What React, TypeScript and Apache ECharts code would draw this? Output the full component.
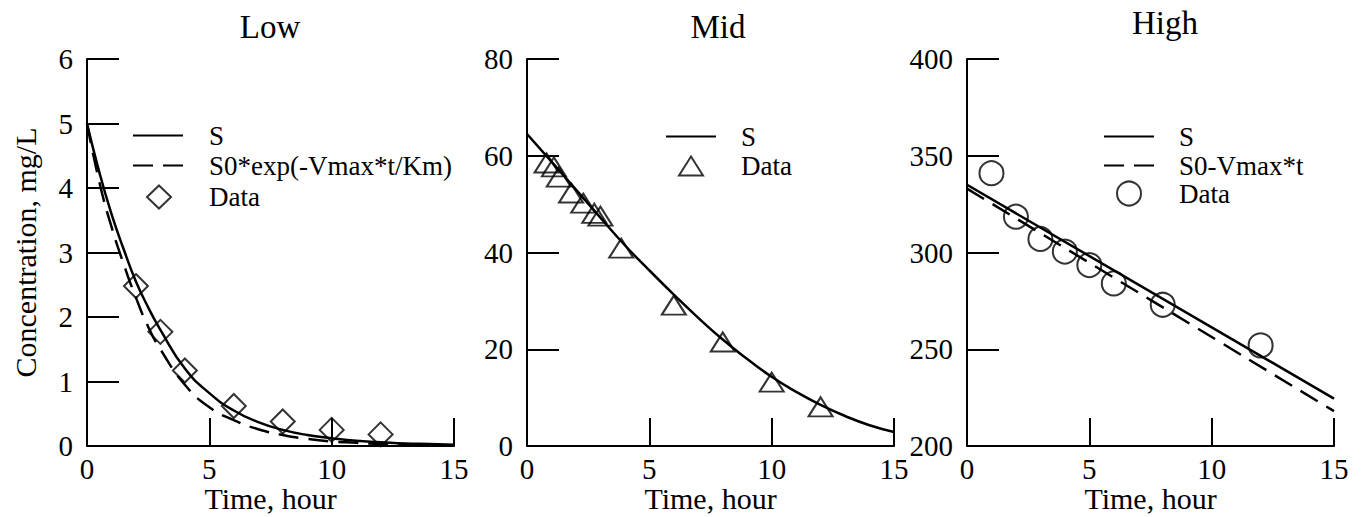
import React, { useEffect, useRef } from "react";
import * as echarts from "echarts";

const FONT = "'Liberation Serif', 'Times New Roman', serif";

// Panel titles and axis names
const panelTitles = ["Low", "Mid", "High"];
const xAxisName = "Time, hour";
const yAxisName = "Concentration, mg/L";

// Axis ranges
const yMins = [0, 0, 200];
const yMaxs = [6, 80, 400];
const yIntervals = [1, 20, 50];
const xMin = 0;
const xMax = 15;
const xInterval = 5;

// Low panel
const lowS: [number, number][] = [
  [0, 5.0], [0.5, 4.25], [1, 3.6], [1.5, 3.05], [2, 2.55], [2.5, 2.15], [3, 1.8],
  [4, 1.2], [5, 0.82], [6, 0.55], [7, 0.37], [8, 0.25], [9, 0.17], [10, 0.12],
  [11, 0.08], [12, 0.06], [13, 0.04], [14, 0.03], [15, 0.02],
];
const lowExp: [number, number][] = [
  [0, 5.0], [0.5, 4.1], [1, 3.4], [1.5, 2.82], [2, 2.3], [2.5, 1.85], [3, 1.5],
  [4, 0.95], [5, 0.6], [6, 0.4], [7, 0.26], [8, 0.17], [9, 0.11], [10, 0.07],
  [11, 0.05], [12, 0.03], [13, 0.02], [14, 0.015], [15, 0.01],
];
const lowData: [number, number][] = [
  [2, 2.48], [3, 1.77], [4, 1.17], [6, 0.62], [8, 0.38], [10, 0.25], [12, 0.18],
];

// Mid panel
const midS: [number, number][] = [
  [0, 64.5], [1, 58.8], [2, 53.0], [3, 47.2], [4, 41.5], [5, 36.3], [6, 31.3],
  [7, 26.5], [8, 22.0], [9, 18.0], [10, 14.3], [11, 11.2], [12, 8.5], [13, 6.2],
  [14, 4.3], [15, 2.9],
];
const midData: [number, number][] = [
  [0.8, 58.5], [1.1, 57.7], [1.3, 55.6], [1.8, 52.3], [2.3, 50.2], [2.75, 48.1],
  [3.0, 47.5], [3.85, 40.9], [6, 29.1], [8, 21.5], [10, 13.2], [12, 8.1],
];

// High panel
const highS: [number, number][] = [[0, 335], [15, 224.5]];
const highLin: [number, number][] = [[0, 333], [15, 218]];
const highData: [number, number][] = [
  [1, 341], [2, 318.5], [3, 307], [4, 300.5], [5, 293.5], [6, 284], [8, 273], [12, 252],
];

// Legend labels
const lowLegend = ["S", "S0*exp(-Vmax*t/Km)", "Data"];
const midLegend = ["S", "Data"];
const highLegend = ["S", "S0-Vmax*t", "Data"];

export default function App() {
  const ref = useRef<HTMLDivElement>(null);

  useEffect(() => {
    if (!ref.current) return;
    const chart = echarts.init(ref.current, undefined, { renderer: "svg" });

    const gridLefts = [87, 527, 967];
    const gridWidth = 367;
    const gridTop = 59;
    const gridHeight = 387;

    const grids = gridLefts.map((l) => ({
      left: l,
      top: gridTop,
      width: gridWidth,
      height: gridHeight,
      containLabel: false,
      outerBoundsMode: "none",
    }));

    const axisLineStyle = { color: "#000", width: 2 };
    const labelStyle = { color: "#000", fontFamily: FONT, fontSize: 29 };

    const xAxes = gridLefts.map((_, i) => ({
      type: "value",
      gridIndex: i,
      min: xMin,
      max: xMax,
      interval: xInterval,
      name: xAxisName,
      nameLocation: "middle",
      nameGap: 37,
      nameMoveOverlap: false,
      nameTextStyle: { color: "#000", fontFamily: FONT, fontSize: 30 },
      axisLine: { show: true, onZero: false, lineStyle: axisLineStyle },
      axisTick: { show: true, inside: true, length: 28, lineStyle: axisLineStyle },
      axisLabel: { ...labelStyle, margin: 8 },
      splitLine: { show: false },
    }));

    const yAxes = gridLefts.map((_, i) => ({
      type: "value",
      gridIndex: i,
      min: yMins[i],
      max: yMaxs[i],
      interval: yIntervals[i],
      name: i === 0 ? yAxisName : "",
      nameLocation: "middle",
      nameGap: 47,
      nameMoveOverlap: false,
      nameTextStyle: { color: "#000", fontFamily: FONT, fontSize: 30 },
      axisLine: { show: true, onZero: false, lineStyle: axisLineStyle },
      axisTick: { show: true, inside: true, length: 32, lineStyle: axisLineStyle },
      axisLabel: { ...labelStyle, margin: 14 },
      splitLine: { show: false },
    }));

    const lineSeries = (name: string, idx: number, data: [number, number][], dashed: boolean) => ({
      name,
      type: "line",
      xAxisIndex: idx,
      yAxisIndex: idx,
      data,
      smooth: true,
      symbol: "none",
      showSymbol: false,
      lineStyle: { color: "#000", width: 2.5, type: dashed ? [20, 10] : "solid" },
      itemStyle: { color: "#000" },
      z: 3,
    });

    const scatterSeries = (name: string, idx: number, data: [number, number][], symbol: string, size: number[]) => ({
      name,
      type: "scatter",
      xAxisIndex: idx,
      yAxisIndex: idx,
      data,
      symbol,
      symbolSize: size,
      itemStyle: { color: "rgba(0,0,0,0)", borderColor: "#000", borderWidth: 2 },
      z: 2,
    });

    const series = [
      lineSeries("Low|" + lowLegend[0], 0, lowS, false),
      lineSeries("Low|" + lowLegend[1], 0, lowExp, true),
      scatterSeries("Low|" + lowLegend[2], 0, lowData, "diamond", [24, 24]),
      lineSeries("Mid|" + midLegend[0], 1, midS, false),
      scatterSeries("Mid|" + midLegend[1], 1, midData, "triangle", [24, 19]),
      lineSeries("High|" + highLegend[0], 2, highS, false),
      lineSeries("High|" + highLegend[1], 2, highLin, true),
      scatterSeries("High|" + highLegend[2], 2, highData, "circle", [24, 24]),
    ];

    // one legend per row: [series name, row centre y, icon left, icon width, icon height, text padding]
    const legendRows: [string, number, number, number, number, number][] = [
      ["Low|" + lowLegend[0], 133, 132, 50, 22, 21],
      ["Low|" + lowLegend[1], 163, 132, 50, 22, 21],
      ["Low|" + lowLegend[2], 195, 146, 24, 23, 33],
      ["Mid|" + midLegend[0], 134, 665, 50, 22, 20],
      ["Mid|" + midLegend[1], 162, 678, 24, 19, 33],
      ["High|" + highLegend[0], 134, 1103, 50, 22, 20],
      ["High|" + highLegend[1], 163, 1103, 50, 22, 20],
      ["High|" + highLegend[2], 192, 1116, 24, 24, 33],
    ];

    const legends = legendRows.map(([name, cy, left, w, h, pad]) => ({
      orient: "vertical",
      left,
      top: cy - h / 2,
      itemWidth: w,
      itemHeight: h,
      padding: 0,
      selectedMode: false,
      formatter: (n: string) => n.split("|")[1],
      textStyle: { color: "#000", fontFamily: FONT, fontSize: 27, padding: [0, 0, 0, pad] },
      data: [name.endsWith("|Data") ? { name } : { name, itemStyle: { opacity: 0 } }],
    }));

    const titleCenters = [270, 718, 1165];
    const titleTops = [10, 10, 6];
    const titles = panelTitles.map((t, i) => ({
      text: t,
      left: titleCenters[i],
      top: titleTops[i],
      padding: 0,
      textAlign: "center",
      textStyle: { color: "#000", fontFamily: FONT, fontSize: 33, fontWeight: "normal" },
    }));

    chart.setOption({
      animation: false,
      backgroundColor: "#fff",
      title: titles,
      legend: legends,
      grid: grids,
      xAxis: xAxes,
      yAxis: yAxes,
      series,
    });

    return () => chart.dispose();
  }, []);

  return (
    <div
      ref={ref}
      style={{ position: "fixed", left: 0, top: 0, width: 1366, height: 517, background: "#fff" }}
    />
  );
}
